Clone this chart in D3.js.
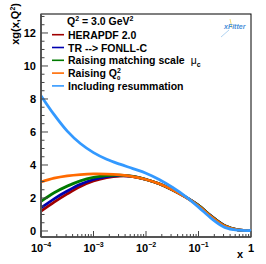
<!DOCTYPE html>
<html>
<head>
<meta charset="utf-8">
<script src="https://cdn.jsdelivr.net/npm/d3@7"></script>
<style>
body { margin: 0; background: #fff; }
text { font-family: "Liberation Sans", Arial, sans-serif; font-weight: bold; fill: #000; }
</style>
</head>
<body>
<div class="container"></div>
<script>
// log10(x) grid shared by all curves
var logx = [-4, -3.75, -3.5, -3.25, -3, -2.75, -2.5, -2.25, -2, -1.75, -1.5, -1.25, -1, -0.75, -0.5, -0.25, 0];

var herapdf = [1.2, 1.75, 2.25, 2.7, 3.03, 3.24, 3.33, 3.3, 3.12, 2.86, 2.5, 2.07, 1.56, 0.88, 0.32, 0.07, 0.02];
var fonll   = [1.4, 1.95, 2.42, 2.83, 3.12, 3.3, 3.36, 3.31, 3.12, 2.86, 2.5, 2.07, 1.56, 0.88, 0.32, 0.07, 0.02];
var muc     = [1.8, 2.32, 2.72, 3.04, 3.25, 3.36, 3.38, 3.31, 3.12, 2.86, 2.5, 2.07, 1.55, 0.87, 0.31, 0.07, 0.02];
var q0      = [2.97, 3.2, 3.34, 3.42, 3.46, 3.45, 3.4, 3.3, 3.12, 2.86, 2.5, 2.06, 1.53, 0.85, 0.3, 0.07, 0.02];
var resum   = [8.2, 7.05, 6.05, 5.3, 4.75, 4.35, 4.05, 3.78, 3.5, 3.12, 2.65, 2.1, 1.45, 0.75, 0.22, 0.05, 0.03];

var seriesNames = ["HERAPDF 2.0", "TR --> FONLL-C", "Raising matching scale", "Raising Q", "Including resummation"];
var seriesData = [herapdf, fonll, muc, q0, resum];
var colors = ["#a00000", "#0000b0", "#007a00", "#ff6a00", "#3399ff"];

var yTicks = [0, 2, 4, 6, 8, 10, 12];
var xDecades = [-4, -3, -2, -1, 0];

var svg = d3.select('.container').append('svg').attr("width", 266).attr("height", 264);

var LEFT = 41, RIGHT = 251, TOP = 14, BOTTOM = 237;

var x = d3.scaleLinear().domain([-4, 0]).range([LEFT, RIGHT]);
var y = d3.scaleLinear().domain([-0.364, 13.15]).range([BOTTOM, TOP]);

// frame
svg.append("rect")
  .attr("x", LEFT).attr("y", TOP)
  .attr("width", RIGHT - LEFT).attr("height", BOTTOM - TOP)
  .attr("fill", "none").attr("stroke", "#000").attr("stroke-width", 1);

// curves
var line = d3.line()
  .x(function(d, i) { return x(logx[i]); })
  .y(function(d) { return y(d); })
  .curve(d3.curveCatmullRom.alpha(0.5));

seriesData.forEach(function(s, i) {
  svg.append("path")
    .attr("d", line(s))
    .attr("fill", "none")
    .attr("stroke", colors[i])
    .attr("stroke-width", 2.8);
});

// axes lines
svg.append("line").attr("x1", LEFT).attr("x2", LEFT).attr("y1", TOP).attr("y2", BOTTOM)
  .attr("stroke", "#555").attr("stroke-width", 2);
svg.append("line").attr("x1", LEFT).attr("x2", RIGHT).attr("y1", BOTTOM).attr("y2", BOTTOM)
  .attr("stroke", "#555").attr("stroke-width", 2);

// y ticks
var yMinor = d3.range(0, 13.01, 0.5);
yMinor.forEach(function(v) {
  var major = yTicks.indexOf(v) >= 0;
  svg.append("line")
    .attr("x1", LEFT).attr("x2", LEFT + (major ? 7 : 3.5))
    .attr("y1", y(v)).attr("y2", y(v))
    .attr("stroke", "#444").attr("stroke-width", 1);
});
yTicks.forEach(function(v) {
  svg.append("text")
    .attr("x", 36).attr("y", y(v) + 4)
    .attr("text-anchor", "end")
    .attr("font-size", 11)
    .text(v);
});

// x ticks
xDecades.forEach(function(d) {
  svg.append("line")
    .attr("x1", x(d)).attr("x2", x(d))
    .attr("y1", BOTTOM).attr("y2", BOTTOM - 6)
    .attr("stroke", "#444").attr("stroke-width", 1);
  if (d < 0) {
    for (var k = 2; k <= 9; k++) {
      var p = x(d + Math.log10(k));
      svg.append("line")
        .attr("x1", p).attr("x2", p)
        .attr("y1", BOTTOM).attr("y2", BOTTOM - 3)
        .attr("stroke", "#444").attr("stroke-width", 1);
    }
  }
});
xDecades.forEach(function(d) {
  var t = svg.append("text")
    .attr("x", x(d)).attr("y", 252)
    .attr("text-anchor", "middle")
    .attr("font-size", 11);
  if (d === 0) {
    t.text("1");
  } else {
    t.append("tspan").text("10");
    t.append("tspan").attr("dy", -5).attr("font-size", 7).text("\u2212" + (-d));
  }
});

// axis titles
svg.append("text")
  .attr("x", 240).attr("y", 258)
  .attr("text-anchor", "middle")
  .attr("font-size", 11)
  .text("x");

var yl = svg.append("text")
  .attr("transform", "translate(19,3) rotate(-90)")
  .attr("text-anchor", "end")
  .attr("font-size", 11);
yl.append("tspan").text("xg(x,Q");
yl.append("tspan").attr("dy", -4).attr("font-size", 7).text("2");
yl.append("tspan").attr("dy", 4).text(")");

// header
var hd = svg.append("text").attr("x", 67).attr("y", 25).attr("font-size", 10.5);
hd.append("tspan").text("Q");
hd.append("tspan").attr("dy", -4).attr("font-size", 7).text("2");
hd.append("tspan").attr("dy", 4).text(" = 3.0 GeV");
hd.append("tspan").attr("dy", -4).attr("font-size", 7).text("2");

// legend
seriesNames.forEach(function(name, i) {
  var ly = 34.7 + i * 12.8;
  svg.append("line")
    .attr("x1", 52).attr("x2", 64)
    .attr("y1", ly).attr("y2", ly)
    .attr("stroke", colors[i]).attr("stroke-width", 1.6);
  var t = svg.append("text").attr("x", 68).attr("y", ly + 4).attr("font-size", 10.5);
  t.append("tspan").text(name);
  if (i === 2) {
    t.append("tspan").attr("dx", 3).attr("font-weight", "normal").text(" \u03bc");
    t.append("tspan").attr("dy", 3).attr("font-size", 7).text("c");
  } else if (i === 3) {
    t.append("tspan").attr("dy", -4).attr("font-size", 7).text("2");
    t.append("tspan").attr("dx", -4).attr("dy", 6.5).attr("font-size", 6).text("0");
  }
});

// xFitter logo
var logo = svg.append("g").attr("transform", "translate(224,29)");
logo.append("line").attr("x1", 6).attr("y1", -10).attr("x2", 8).attr("y2", -1)
  .attr("stroke", "#e8d060").attr("stroke-width", 0.8);
logo.append("line").attr("x1", 5).attr("y1", 1).attr("x2", -3).attr("y2", 8)
  .attr("stroke", "#9cc8ee").attr("stroke-width", 0.8);
logo.append("text")
  .attr("x", 0).attr("y", 0)
  .attr("font-size", 7)
  .attr("font-style", "italic")
  .attr("font-weight", "normal")
  .style("fill", "#4a90d9")
  .text("xFitter");
</script>
</body>
</html>
